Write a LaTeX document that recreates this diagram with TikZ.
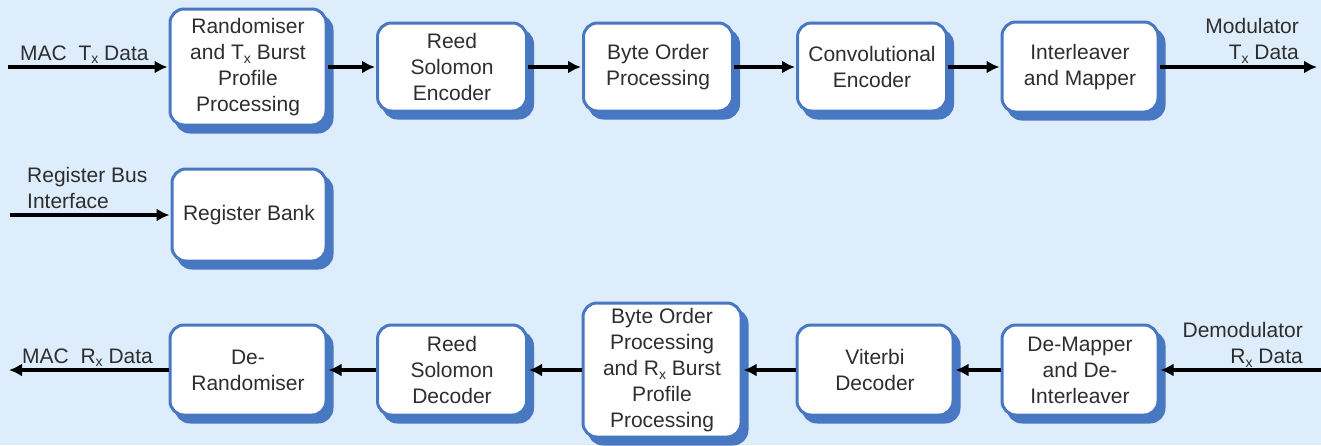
\documentclass[tikz,border=0pt]{standalone}
\usepackage{fontspec}
\setmainfont{Liberation Sans}
\usetikzlibrary{arrows.meta,shadows}
\definecolor{bgblue}{HTML}{DEEDFC}
\definecolor{bblue}{HTML}{4878C2}
\definecolor{txtgray}{HTML}{2E2E2E}
\newcommand{\lowx}{\raisebox{-0.35ex}{\fontsize{14}{14}\selectfont x}}
\begin{document}
\begin{tikzpicture}[x=1pt,y=-1pt,
  blk/.style={draw=bblue, line width=3pt, fill=white, rounded corners=14pt,
    align=center, text=txtgray, font=\fontsize{21}{26}\selectfont, inner sep=0pt,
    copy shadow={shadow xshift=6pt, shadow yshift=-7pt, draw=bblue, fill=bblue}},
  lbl/.style={text=txtgray, font=\fontsize{21}{26}\selectfont, inner sep=0pt},
  conn/.style={line width=3.6pt, -{Latex[length=13pt,width=13pt]}, shorten >=1pt}]
\fill[bgblue] (0,0) rectangle (1321,445);
\useasboundingbox (0,0) rectangle (1321,445);
% top row
\node[blk, minimum width=156pt, minimum height=116pt] (r1) at (248,67) {Randomiser\\and T\lowx\ Burst\\Profile\\Processing};
\node[blk, minimum width=149pt, minimum height=88pt] (r2) at (452,67) {Reed\\Solomon\\Encoder};
\node[blk, minimum width=149pt, minimum height=88pt] (r3) at (658,67) {Byte Order\\Processing};
\node[blk, minimum width=149pt, minimum height=88pt] (r4) at (872,67) {Convolutional\\Encoder};
\node[blk, minimum width=156pt, minimum height=90pt] (r5) at (1080,67) {Interleaver\\and Mapper};
% register
\node[blk, minimum width=154pt, minimum height=92pt] (reg) at (249,215) {Register Bank};
% bottom row
\node[blk, minimum width=156pt, minimum height=90pt] (b1) at (248,370) {De-\\Randomiser};
\node[blk, minimum width=149pt, minimum height=90pt] (b2) at (452,370) {Reed\\Solomon\\Decoder};
\node[blk, minimum width=158pt, minimum height=134pt] (b3) at (662,370) {Byte Order\\Processing\\and R\lowx\ Burst\\Profile\\Processing};
\node[blk, minimum width=156pt, minimum height=90pt] (b4) at (875,370) {Viterbi\\Decoder};
\node[blk, minimum width=156pt, minimum height=90pt] (b5) at (1080,370) {De-Mapper\\and De-\\Interleaver};
% free ends
\coordinate (inTx) at (8,67);
\coordinate (outTx) at (1318,67);
\coordinate (inReg) at (10,215);
\coordinate (inRx) at (1321,370);
\coordinate (outRx) at (8,370);
% labels
\node[lbl, anchor=base west] (lmactx) at (20,60) {MAC\ \ T\lowx\ Data};
\node[lbl, anchor=north east, align=right] (lmod) at (1299,18) {Modulator\\T\lowx\ Data};
\node[lbl, anchor=north west, align=left] (lreg) at (27,167) {Register Bus\\Interface};
\node[lbl, anchor=base west] (lmacrx) at (22,363) {MAC\ \ R\lowx\ Data};
\node[lbl, anchor=north east, align=right] (ldemod) at (1303,322) {Demodulator\\R\lowx\ Data};
% connectors
\draw[conn] (inTx) -- (r1.west |- inTx);
\draw[conn] (r1.east |- inTx) -- (r2.west);
\draw[conn] (r2) -- (r3);
\draw[conn] (r3) -- (r4);
\draw[conn] (r4) -- (r5);
\draw[conn] (r5.east) -- (outTx);
\draw[conn] (inReg) -- (reg.west |- inReg);
\draw[conn] (inRx) -- (b5.east);
\draw[conn] (b5) -- (b4);
\draw[conn] (b4) -- (b3);
\draw[conn] (b3) -- (b2);
\draw[conn] (b2) -- (b1);
\draw[conn] (b1.west) -- (outRx);
\end{tikzpicture}
\end{document}
